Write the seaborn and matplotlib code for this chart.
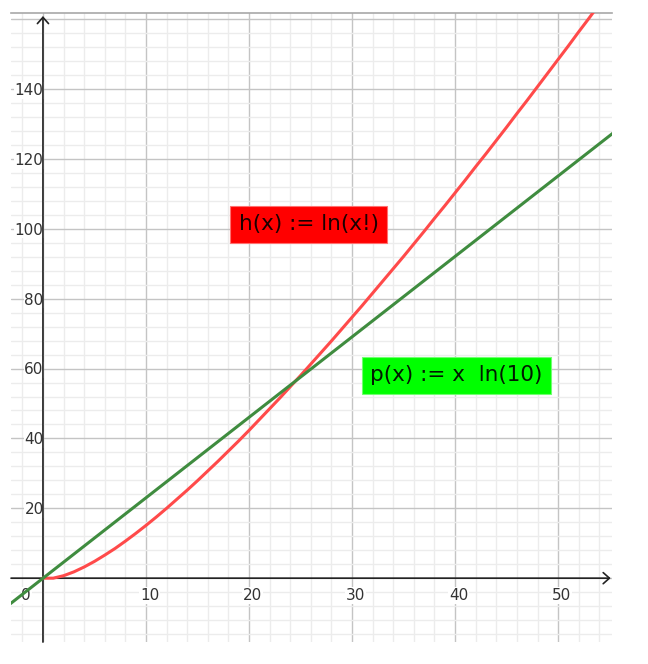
import pandas as pd
import seaborn as sns
import matplotlib.pyplot as plt
from matplotlib.ticker import MultipleLocator

# h(x) = ln(x!) read at integer x
h_x = list(range(0, 55))
h_y = [0.0, 0.0, 0.7, 1.8, 3.2, 4.8, 6.6, 8.5, 10.6, 12.8,
       15.1, 17.5, 20.0, 22.6, 25.2, 27.9, 30.7, 33.5, 36.4, 39.3,
       42.3, 45.4, 48.5, 51.6, 54.8, 58.0, 61.3, 64.6, 67.9, 71.3,
       74.7, 78.1, 81.6, 85.1, 88.6, 92.1, 95.7, 99.3, 103.0, 106.6,
       110.3, 114.0, 117.8, 121.5, 125.3, 129.1, 133.0, 136.8, 140.7, 144.6,
       148.5, 152.4, 156.4, 160.3, 164.3]

# p(x) = x ln(10), straight line end points
p_x = [-3.2, 55.5]
p_y = [-7.4, 127.8]

x_ticks = [10, 20, 30, 40, 50]
y_ticks = [20, 40, 60, 80, 100, 120, 140]

df_h = pd.DataFrame({'x': h_x, 'y': h_y})
df_p = pd.DataFrame({'x': p_x, 'y': p_y})

sns.set_style("white")
plt.rcParams['font.family'] = ['DejaVu Sans']

fig = plt.figure(figsize=(6.48, 6.64), dpi=100)
ax = fig.add_axes([0.017, 0.033, 0.927, 0.947])

ax.set_xlim(-3.1, 55.2)
ax.set_ylim(-18.3, 161.7)

ax.xaxis.set_major_locator(MultipleLocator(10))
ax.xaxis.set_minor_locator(MultipleLocator(2))
ax.yaxis.set_major_locator(MultipleLocator(20))
ax.yaxis.set_minor_locator(MultipleLocator(4))
ax.grid(which='major', color='#c4c4c4', lw=1)
ax.grid(which='minor', color='#ececec', lw=1)
ax.set_axisbelow(True)
ax.tick_params(which='both', length=0, labelbottom=False, labelleft=False)
for s in ['left', 'right', 'bottom']:
    ax.spines[s].set_visible(False)
ax.spines['top'].set_color('#a8a8a8')
ax.spines['top'].set_linewidth(1.2)

# tick labels (under the curves and axes)
lbl_box = dict(boxstyle='square,pad=0.05', fc='white', ec='none')
for t in x_ticks:
    ax.annotate(str(t), xy=(t, 0), xytext=(2.5, -7), textcoords='offset points',
                ha='center', va='top', fontsize=11, color='#333333', bbox=lbl_box,
                zorder=1.5)
ax.annotate('0', xy=(0, 0), xytext=(-12, -7), textcoords='offset points',
            ha='center', va='top', fontsize=11, color='#333333', bbox=lbl_box,
            zorder=1.5)
for t in y_ticks:
    ax.annotate(str(t), xy=(0, t), xytext=(0.5, -1), textcoords='offset points',
                ha='right', va='center', fontsize=11, color='#333333', bbox=lbl_box,
                zorder=1.5)

# axes with arrows
arrow = dict(arrowstyle='->,head_length=0.45,head_width=0.4', color='#222222', lw=1.2,
             shrinkA=0, shrinkB=0)
ax.annotate('', xy=(55.1, 0), xytext=(-3.1, 0), arrowprops=arrow, zorder=3)
ax.annotate('', xy=(0, 160.9), xytext=(0, -18.3), arrowprops=arrow, zorder=3)

# curves (green drawn over red)
sns.lineplot(data=df_h, x='x', y='y', color='#ff4a4a', lw=2.2, ax=ax, zorder=4)
sns.lineplot(data=df_p, x='x', y='y', color='#3f8c3f', lw=2.2, ax=ax, zorder=4)
ax.set_xlabel('')
ax.set_ylabel('')

ax.text(25.8, 101.3, 'h(x) := ln(x!)', ha='center', va='center', fontsize=15.5,
        color='#1a0000', zorder=5,
        bbox=dict(boxstyle='square,pad=0.4', fc='#ff0000', ec='#ff7070', lw=0.8))
ax.text(40.15, 58.1, 'p(x) := x  ln(10)', ha='center', va='center', fontsize=15.5,
        color='#001a00', zorder=5,
        bbox=dict(boxstyle='square,pad=0.4', fc='#00ff00', ec='#70ff70', lw=0.8))

fig.savefig('out.png', dpi=100)
